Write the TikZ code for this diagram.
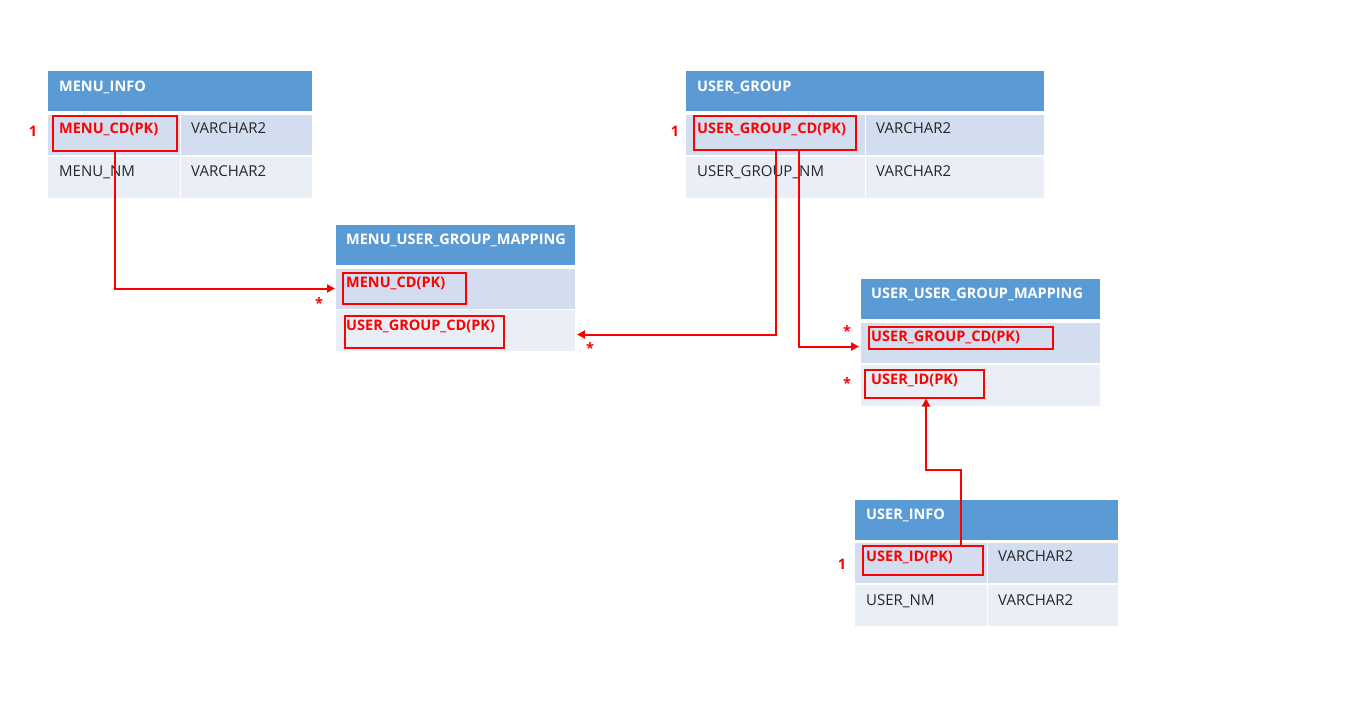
\documentclass[tikz,border=0pt]{standalone}
\usepackage{fontspec}
\setmainfont{Open Sans}
\usetikzlibrary{calc,arrows.meta}
\definecolor{hdr}{HTML}{5B9BD5}
\definecolor{rowa}{HTML}{D2DEEF}
\definecolor{rowb}{HTML}{EAEFF7}
\definecolor{rd}{HTML}{FF0000}
\tikzset{
  cell/.style={anchor=north west,inner sep=0pt,outer sep=0pt,minimum width=#1},
  hdrcell/.style={cell=#1,fill=hdr,minimum height=40},
  acell/.style={cell=#1,fill=rowa,minimum height=40},
  bcell/.style={cell=#1,fill=rowb,minimum height=41},
  htxt/.style={anchor=base west,inner sep=0pt,text=white,font=\fontsize{14.5}{16}\selectfont\bfseries},
  ntxt/.style={anchor=base west,inner sep=0pt,text=black!85,font=\fontsize{15}{17}\selectfont},
  ktxt/.style={anchor=base west,inner sep=0pt,text=rd,font=\fontsize{14.5}{16}\selectfont\bfseries},
  pkbox/.style={draw=rd,line width=2pt,anchor=north west,inner sep=0pt,minimum width=#1},
  card/.style={text=rd,font=\fontsize{14.5}{16}\selectfont\bfseries,inner sep=0pt},
  rel/.style={draw=rd,line width=2pt,-{Triangle[length=8pt,width=8pt]}},
}
\begin{document}
\begin{tikzpicture}[x=1pt,y=-1pt]
\useasboundingbox (0,0) rectangle (1368,718);
% MENU_INFO
\node[hdrcell=264] (mi-h) at (48,71) {};
\node[acell=132] (mi-a1) at (48,115) {};
\node[acell=131] (mi-a2) at (181,115) {};
\node[bcell=132] (mi-b1) at (48,157) {};
\node[bcell=131] (mi-b2) at (181,157) {};
\node[htxt] (mi-t) at (59,91) {MENU\_INFO};
\node[ktxt] (mi-k) at (59,133) {MENU\_CD(PK)};
\node[ntxt] (mi-v1) at (191,133) {VARCHAR2};
\node[ntxt] (mi-n) at (59,176) {MENU\_NM};
\node[ntxt] (mi-v2) at (191,176) {VARCHAR2};
\node[pkbox=124,minimum height=35] (mi-pk) at (51.5,115) {};
\node[card] (mi-c) at (33,131) {1};
% USER_GROUP
\node[hdrcell=358] (ug-h) at (686,71) {};
\node[acell=179] (ug-a1) at (686,115) {};
\node[acell=178] (ug-a2) at (866,115) {};
\node[bcell=179] (ug-b1) at (686,157) {};
\node[bcell=178] (ug-b2) at (866,157) {};
\node[htxt] (ug-t) at (697,91) {USER\_GROUP};
\node[ktxt] (ug-k) at (697,133) {USER\_GROUP\_CD(PK)};
\node[ntxt] (ug-v1) at (876,133) {VARCHAR2};
\node[ntxt] (ug-n) at (697,176) {USER\_GROUP\_NM};
\node[ntxt] (ug-v2) at (876,176) {VARCHAR2};
\node[pkbox=162,minimum height=34] (ug-pk) at (693,114.5) {};
\node[card] (ug-c) at (675,131) {1};
% MENU_USER_GROUP_MAPPING
\node[hdrcell=239] (mug-h) at (336,224.5) {};
\node[acell=239] (mug-a) at (336,268.5) {};
\node[bcell=239] (mug-b) at (336,310) {};
\node[htxt] (mug-t) at (346,244) {MENU\_USER\_GROUP\_MAPPING};
\node[ktxt] (mug-k1) at (346,287) {MENU\_CD(PK)};
\node[ktxt] (mug-k2) at (346,330) {USER\_GROUP\_CD(PK)};
\node[pkbox=123,minimum height=31] (mug-pk1) at (341.5,272) {};
\node[pkbox=159,minimum height=32.5] (mug-pk2) at (343.5,314.5) {};
\node[card] (mug-s1) at (319,303) {*};
\node[card] (mug-s2) at (590,348) {*};
% USER_USER_GROUP_MAPPING
\node[hdrcell=239] (uug-h) at (861,278.5) {};
\node[acell=239] (uug-a) at (861,322.5) {};
\node[bcell=239] (uug-b) at (861,364.5) {};
\node[htxt] (uug-t) at (871,298) {USER\_USER\_GROUP\_MAPPING};
\node[ktxt] (uug-k1) at (871,341) {USER\_GROUP\_CD(PK)};
\node[ktxt] (uug-k2) at (871,384) {USER\_ID(PK)};
\node[pkbox=184,minimum height=22] (uug-pk1) at (867.5,326) {};
\node[pkbox=119,minimum height=28] (uug-pk2) at (863.5,368.5) {};
\node[card] (uug-s1) at (847,331) {*};
\node[card] (uug-s2) at (847,383) {*};
% USER_INFO
\node[hdrcell=263] (ui-h) at (855,499.5) {};
\node[acell=132] (ui-a1) at (855,543) {};
\node[acell=130] (ui-a2) at (988,543) {};
\node[bcell=132] (ui-b1) at (855,585) {};
\node[bcell=130] (ui-b2) at (988,585) {};
\node[htxt] (ui-t) at (866,519) {USER\_INFO};
\node[ktxt] (ui-k) at (866,561) {USER\_ID(PK)};
\node[ntxt] (ui-v1) at (998,561) {VARCHAR2};
\node[ntxt] (ui-n) at (866,605) {USER\_NM};
\node[ntxt] (ui-v2) at (998,605) {VARCHAR2};
\node[pkbox=120,minimum height=29] (ui-pk) at (861.5,545) {};
\node[card] (ui-c) at (842,564) {1};
% relations
\coordinate (bend) at (926,470);
\draw[rel] (mi-pk.south) |- ([xshift=-1]mug-a.west);
\draw[rel] ([xshift=1]ug-pk.south) |- ([xshift=2,yshift=-4]mug-b.east);
\draw[rel] ([xshift=24]ug-pk.south) |- ([xshift=-2,yshift=-4]uug-a.west);
\draw[rel] ([xshift=38]ui-pk.north) |- (bend) -- (bend |- uug-pk2.south);
\end{tikzpicture}
\end{document}
